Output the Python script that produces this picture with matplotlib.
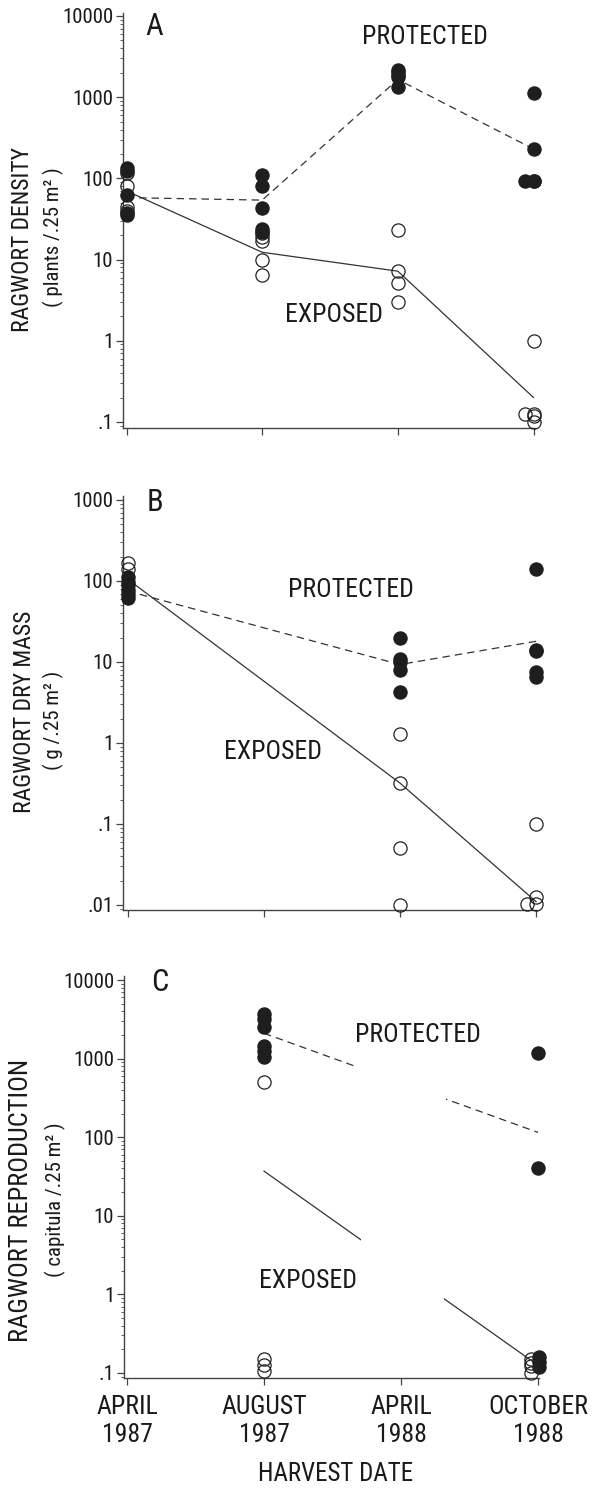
import matplotlib
matplotlib.use("Agg")
import matplotlib.pyplot as plt
import matplotlib.font_manager as fm
from matplotlib.ticker import FixedLocator, LogLocator, NullFormatter, FixedFormatter
from matplotlib.path import Path
from matplotlib.transforms import blended_transform_factory

# ---- data ----
dates = ["APRIL\n1987", "AUGUST\n1987", "APRIL\n1988", "OCTOBER\n1988"]

# A: ragwort density (plants / .25 m2), one list per harvest date
dens_prot = [[135, 125, 62, 38, 35], [110, 80, 43, 24, 22],
             [2150, 2050, 1870, 1780, 1350], [1120, 230, 92, 92, 92]]
dens_exp = [[118, 80, 45, 40], [21, 19, 17, 10, 6.4],
            [23, 7.2, 5.1, 3.0], [1.0, 0.125, 0.125, 0.12, 0.10]]
dens_prot_mean = [58, 54, 1650, 230]
dens_exp_mean = [70, 12.3, 7.2, 0.2]

# B: ragwort dry mass (g / .25 m2), nothing harvested in August 1987
mass_prot = [[112, 98, 88, 78, 70, 62], [], [20, 11, 10, 8, 4.2], [140, 14, 13.5, 7.5, 6.6]]
mass_exp = [[165, 140], [], [1.3, 0.32, 0.05, 0.01], [0.1, 0.0126, 0.0102, 0.0102]]
mass_dates = [0, 2, 3]
mass_prot_mean = [75, 9.3, 18]
mass_exp_mean = [105, 0.32, 0.011]

# C: ragwort reproduction (capitula / .25 m2), only August 1987 and October 1988
repr_prot = [[], [3700, 3200, 2500, 1450, 1250, 1050], [], [1180, 40, 0.158, 0.136, 0.12]]
repr_exp = [[], [500, 0.15, 0.128, 0.106], [], [0.15, 0.135, 0.123, 0.101]]
repr_dates = [1, 3]
repr_prot_mean = [2100, 115]
repr_exp_mean = [37, 0.125]

# ---- fonts ----
names = {f.name for f in fm.fontManager.ttflist}
narrow = [f for f in ["Liberation Sans Narrow", "Roboto Condensed"] if f in names]
plt.rcParams["font.family"] = narrow[:1] + ["Liberation Sans", "DejaVu Sans"]
plt.rcParams["text.color"] = "#1a1a1a"

W, H = 592, 1490
INK = "#222222"
fig = plt.figure(figsize=(W / 100, H / 100), dpi=100)


def make_axes(left, top, right, bottom, xlim, ylim, ticks, ticklabels):
    ax = fig.add_axes([left / W, 1 - bottom / H, (right - left) / W, (bottom - top) / H])
    ax.set_yscale("log")
    ax.set_xlim(*xlim)
    ax.set_ylim(*ylim)
    for s in ["top", "right"]:
        ax.spines[s].set_visible(False)
    for s in ["left", "bottom"]:
        ax.spines[s].set_color("#444444")
        ax.spines[s].set_linewidth(1.0)
    ax.set_xticks(range(4))
    ax.set_xticklabels([])
    ax.yaxis.set_major_locator(FixedLocator(ticks))
    ax.yaxis.set_major_formatter(FixedFormatter(ticklabels))
    ax.yaxis.set_minor_locator(LogLocator(base=10, subs=range(2, 10)))
    ax.yaxis.set_minor_formatter(NullFormatter())
    ax.tick_params(axis="both", which="major", direction="out", length=5, width=0.9,
                   color="#444444", labelsize=15, labelcolor="#1a1a1a", pad=2)
    ax.tick_params(axis="y", which="minor", direction="out", length=2.5, width=0.6, color="#444444")
    ax.tick_params(axis="x", which="major", length=5)
    return ax


def draw_points(ax, groups, filled, shift):
    for i, vals in enumerate(groups):
        for j, v in enumerate(vals):
            dx = shift.get((i, j), 0.0)
            if filled:
                ax.plot(i + dx, v, "o", ms=9.5, mfc="#1e1e1e", mec="#1e1e1e", mew=0.9, zorder=3,
                        clip_on=False)
            else:
                ax.plot(i + dx, v, "o", ms=9.5, mfc="none", mec=INK, mew=0.9, zorder=4,
                        clip_on=False)


def draw_means(ax, xs, prot, exp):
    lp, = ax.plot(xs, prot, color="#333333", lw=0.9, dashes=(6, 4), zorder=2)
    le, = ax.plot(xs, exp, color="#333333", lw=0.9, zorder=2)
    return lp, le


# ---- panel A ----
axA = make_axes(123, 12.5, 535, 427.5, (-0.026, 3.011), (10 ** -1.068, 10 ** 4.043),
                [0.1, 1, 10, 100, 1000, 10000], [".1", "1", "10", "100", "1000", "10000"])
draw_means(axA, range(4), dens_prot_mean, dens_exp_mean)
draw_points(axA, dens_prot, True, {(3, 3): -0.06})
draw_points(axA, dens_exp, False, {(3, 1): -0.06})
axA.text(0.075, 0.966, "A", transform=axA.transAxes, fontsize=22, ha="center", va="center")
axA.text(2.2, 5500, "PROTECTED", fontsize=18.5, ha="center", va="center")
axA.text(1.53, 2.1, "EXPOSED", fontsize=18.5, ha="center", va="center")
fig.text(22.7 / W, 1 - 239 / H, "RAGWORT DENSITY", rotation=90, fontsize=17, ha="center", va="center")
fig.text(53 / W, 1 - 237 / H, "( plants /.25 m² )", rotation=90, fontsize=15, ha="center", va="center")

# ---- panel B ----
axB = make_axes(123, 496, 537, 910, (-0.035, 3.007), (10 ** -2.062, 10 ** 3.049),
                [0.01, 0.1, 1, 10, 100, 1000], [".01", ".1", "1", "10", "100", "1000"])
draw_means(axB, mass_dates, mass_prot_mean, mass_exp_mean)
draw_points(axB, mass_prot, True, {})
draw_points(axB, mass_exp, False, {(3, 2): -0.065})
axB.text(0.076, 0.985, "B", transform=axB.transAxes, fontsize=22, ha="center", va="center")
axB.text(1.64, 77, "PROTECTED", fontsize=18.5, ha="center", va="center")
axB.text(1.07, 0.77, "EXPOSED", fontsize=18.5, ha="center", va="center")
fig.text(24.6 / W, 1 - 712 / H, "RAGWORT DRY MASS", rotation=90, fontsize=17, ha="center", va="center")
fig.text(53 / W, 1 - 720 / H, "( g /.25 m² )", rotation=90, fontsize=15, ha="center", va="center")

# ---- panel C ----
axC = make_axes(124, 976, 539, 1378, (-0.022, 3.007), (10 ** -1.064, 10 ** 4.051),
                [0.1, 1, 10, 100, 1000, 10000], [".1", "1", "10", "100", "1000", "10000"])
lp, le = draw_means(axC, repr_dates, repr_prot_mean, repr_exp_mean)
# the mean lines are broken around April 1988 (no flowering sample)
tr = blended_transform_factory(axC.transData, axC.transAxes)
for line, (g0, g1) in [(lp, (1.66, 2.33)), (le, (1.71, 2.31))]:
    clip = Path.make_compound_path(
        Path([(0.9, 0), (g0, 0), (g0, 1), (0.9, 1), (0.9, 0)], closed=True),
        Path([(g1, 0), (3.1, 0), (3.1, 1), (g1, 1), (g1, 0)], closed=True))
    line.set_clip_path(clip, tr)
draw_points(axC, repr_prot, True, {(3, 2): 0.01, (3, 3): 0.01, (3, 4): 0.01})
draw_points(axC, repr_exp, False, {(3, 0): -0.05, (3, 1): -0.05, (3, 2): -0.05, (3, 3): -0.05})
axC.text(0.085, 0.985, "C", transform=axC.transAxes, fontsize=22, ha="center", va="center")
axC.text(2.12, 2000, "PROTECTED", fontsize=18.5, ha="center", va="center")
axC.text(1.32, 1.5, "EXPOSED", fontsize=18.5, ha="center", va="center")
axC.set_xticklabels(dates, fontsize=18.5, linespacing=1.25)
axC.tick_params(axis="x", pad=7)
fig.text(21 / W, 1 - 1200 / H, "RAGWORT REPRODUCTION", rotation=90, fontsize=19, ha="center", va="center")
fig.text(55 / W, 1 - 1200 / H, "( capitula /.25 m² )", rotation=90, fontsize=15, ha="center", va="center")
fig.text(336 / W, 1 - 1474 / H, "HARVEST DATE", fontsize=18, ha="center", va="center")

fig.savefig("out.png", dpi=100, facecolor="white")
